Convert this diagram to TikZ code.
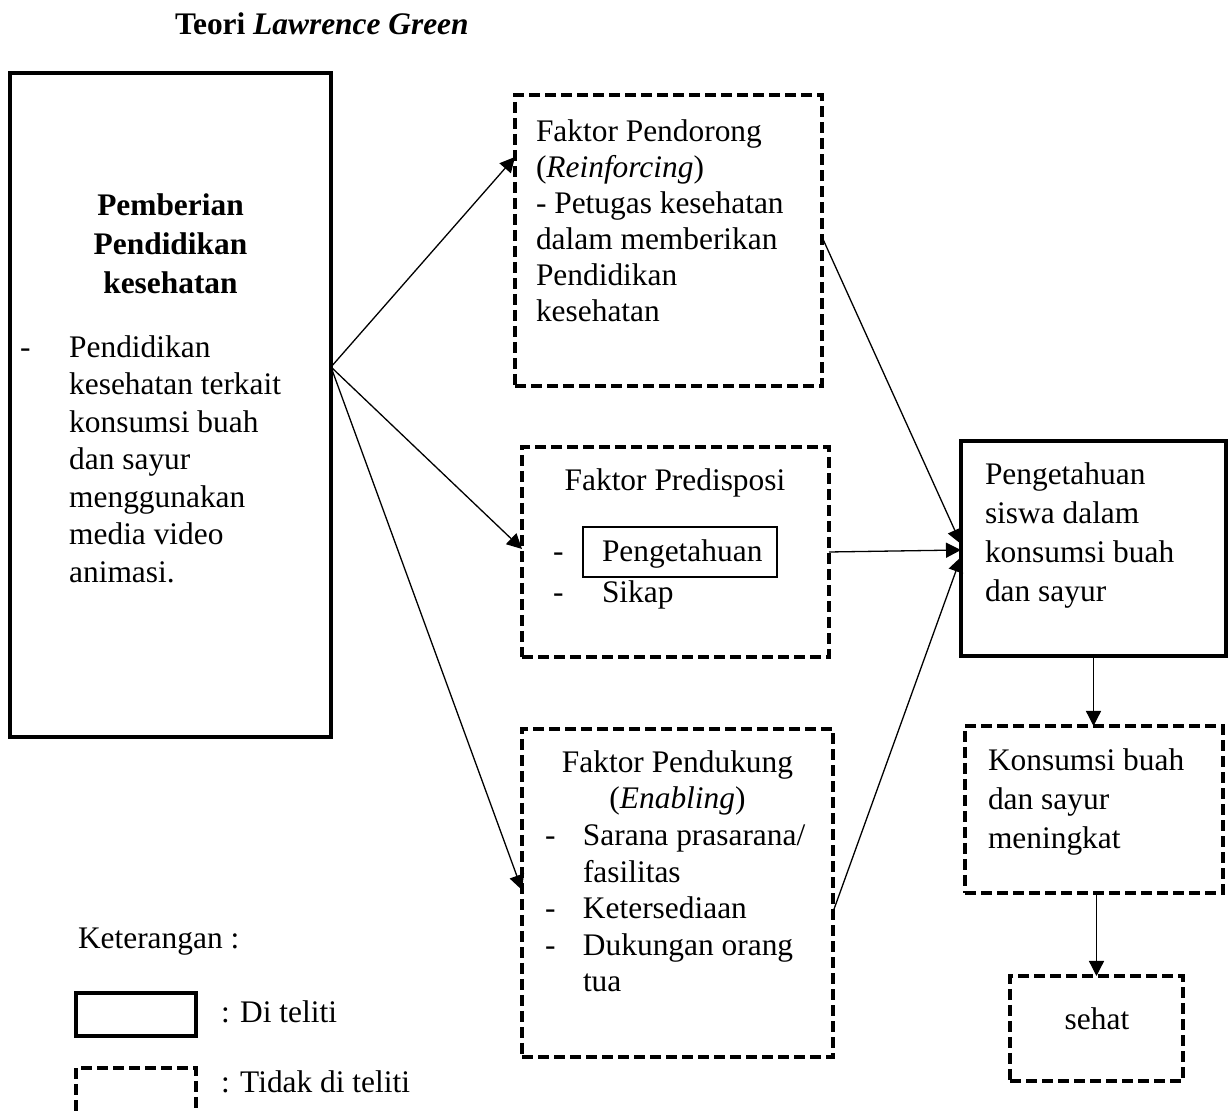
\documentclass[tikz,border=0pt]{standalone}
\usepackage{fontspec}
\setmainfont{Liberation Serif}
\usetikzlibrary{arrows.meta,fit}
\newcommand\ftx{\fontsize{15.7pt}{19pt}\selectfont}
\begin{document}
\begin{tikzpicture}[x=0.5pt,y=-0.5pt,
  every node/.style={inner sep=0pt,outer sep=0pt,font=\ftx},
  solidbox/.style={draw,line width=1.7pt},
  dashbox/.style={draw,line width=1.75pt,dash pattern=on 5.5pt off 2.5pt},
  arr/.style={line width=0.65pt,-{Triangle[length=7.5pt,width=7.5pt]}}]
\useasboundingbox (0,0) rectangle (1228,1111);
% title
\node[anchor=base west] (title) at (175,35) {\textbf{Teori \textit{Lawrence Green}}};
% boxes
\node[solidbox,fit={(10,73) (331,737)}] (L) {};
\node[dashbox,fit={(515,95) (822,386)}] (P1) {};
\node[dashbox,fit={(522,447) (829,657)}] (P2) {};
\node[solidbox,line width=1.4pt,fit={(583,527) (777,577)}] (P2in) {};
\node[dashbox,fit={(522,729) (833,1057)}] (P3) {};
\node[solidbox,line width=1.9pt,fit={(961,441) (1226,656)}] (K) {};
\node[dashbox,fit={(965,726) (1223,893)}] (KB) {};
\node[dashbox,fit={(1010,976) (1183,1081)}] (S) {};
% left box text
\node[anchor=north,yshift=13.65pt,font=\fontsize{15.7pt}{19.5pt}\selectfont\bfseries] (Lt) at (170.5,216)
  {\begin{tabular}{@{}c@{}}Pemberian\\Pendidikan\\kesehatan\end{tabular}};
\node[anchor=north west,yshift=13.1pt,font=\fontsize{15.7pt}{18.75pt}\selectfont] (Ll) at (20,357)
  {\begin{tabular}{@{}p{24.6pt}@{}l@{}}-&Pendidikan\\&kesehatan terkait\\&konsumsi buah\\&dan sayur\\&menggunakan\\&media video\\&animasi.\end{tabular}};
% box 1 text
\node[anchor=north west,yshift=12.6pt,font=\fontsize{15.7pt}{18pt}\selectfont] (P1t) at (536,142)
  {\begin{tabular}{@{}l@{}}Faktor Pendorong\\(\textit{Reinforcing})\\- Petugas kesehatan\\dalam memberikan\\Pendidikan\\kesehatan\end{tabular}};
% box 2 text
\node[anchor=base] (P2h) at (675,491) {Faktor Predisposi};
\node[anchor=base west] (P2d1) at (553,562) {-};
\node[anchor=base west] (P2a) at (602,562) {Pengetahuan};
\node[anchor=base west] (P2d2) at (553,603) {-};
\node[anchor=base west] (P2b) at (602,603) {Sikap};
% box 3 text
\node[anchor=base] (P3h) at (677.5,773) {Faktor Pendukung};
\node[anchor=base] (P3e) at (677.5,809) {(\textit{Enabling})};
\node[anchor=north west,yshift=12.78pt,font=\fontsize{15.7pt}{18.25pt}\selectfont] (P3l) at (545,846)
  {\begin{tabular}{@{}p{19pt}@{}l@{}}-&Sarana prasarana/\\&fasilitas\\-&Ketersediaan\\-&Dukungan orang\\&tua\end{tabular}};
% right boxes text
\node[anchor=north west,yshift=13.65pt,font=\fontsize{15.7pt}{19.5pt}\selectfont] (Kt) at (985,485)
  {\begin{tabular}{@{}l@{}}Pengetahuan\\siswa dalam\\konsumsi buah\\dan sayur\end{tabular}};
\node[anchor=north west,yshift=13.65pt,font=\fontsize{15.7pt}{19.5pt}\selectfont] (KBt) at (988,771)
  {\begin{tabular}{@{}l@{}}Konsumsi buah\\dan sayur\\meningkat\end{tabular}};
\node[anchor=base] (St) at (1097,1030) {sehat};
% legend
\node[anchor=base west] (ket) at (78,949) {Keterangan :};
\node[solidbox,fit={(76,993) (196,1036)}] (LG1) {};
\node[anchor=base west] (LG1t) at (221,1023) {: Di teliti};
\draw[line width=1.75pt,dash pattern=on 5.5pt off 2.5pt] (76,1111) -- (76,1068) -- (196,1068) -- (196,1111);
\node[anchor=base west] (LG2t) at (221,1093) {: Tidak di teliti};
% connectors
\coordinate (src) at (331,367);
\draw[arr] (src) -- (P1.west |- 0,157);
\draw[arr] (src) -- (P2.west |- 0,549);
\draw[arr] (src) -- (P3.west |- 0,890);
\draw[arr] (P1.east |- 0,237) -- (K.west |- 0,544);
\draw[arr] (P2.east |- 0,552) -- (K.west |- 0,550);
\draw[arr] (P3.east |- 0,912) -- (K.west |- 0,557);
\draw[arr] (K.south) -- (K.south |- KB.north);
\draw[arr] (S.north |- KB.south) -- (S.north);
\end{tikzpicture}
\end{document}
